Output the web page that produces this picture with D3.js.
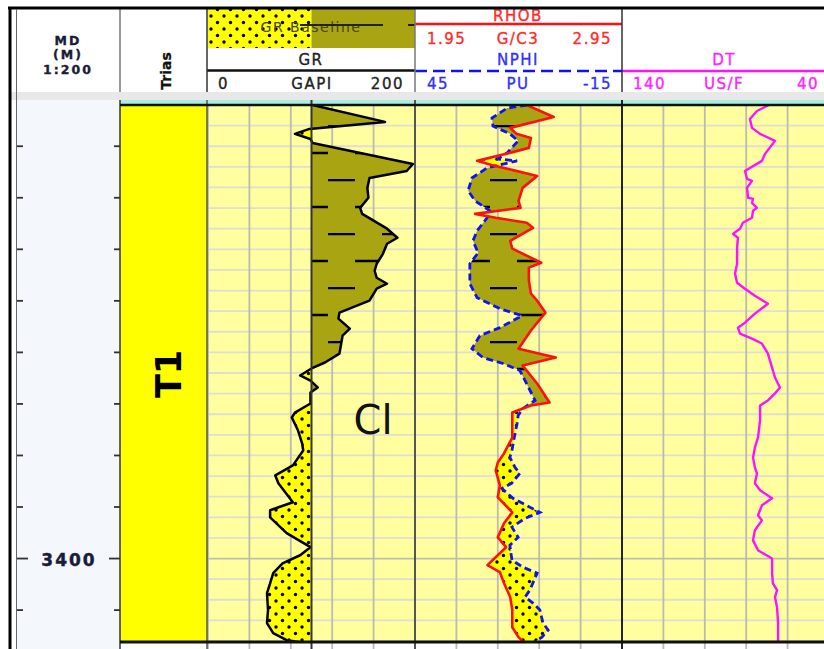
<!DOCTYPE html>
<html>
<head>
<meta charset="UTF-8">
<title>Well log T1</title>
<script src="https://cdn.jsdelivr.net/npm/d3@7"></script>
<style>
body{margin:0;background:#fff;}
text{font-family:"DejaVu Sans",Verdana,sans-serif;}
</style>
</head>
<body>
<script>
// depth window (m) and ticks
var depthDomain = [3378, 3404];
var depthTicks = [3380, 3382.5, 3385, 3387.5, 3390, 3392.5, 3395, 3397.5, 3400, 3402.5];
var depthLabels = [3400];

// curve scales
var grScale = [0, 200], grBaseline = 100;
var rhobScale = [1.95, 2.95];
var nphiScale = [45, -15];
var dtScale = [140, 40];

// GR (GAPI)
var grDepth = [3378.0, 3378.82, 3379.16, 3379.40, 3379.65, 3379.84, 3380.86, 3381.20, 3381.54, 3382.02, 3382.50, 3382.99, 3383.28, 3384.00, 3384.44, 3384.73, 3385.22, 3385.70, 3386.04, 3386.38, 3386.67, 3386.91, 3387.49, 3388.07, 3388.36, 3388.85, 3389.19, 3390.06, 3390.49, 3390.78, 3391.12, 3391.37, 3391.70, 3391.95, 3392.48, 3392.92, 3393.16, 3393.79, 3394.42, 3394.76, 3395.48, 3395.97, 3396.35, 3397.27, 3397.66, 3398.00, 3398.77, 3399.45, 3399.84, 3400.23, 3400.71, 3401.20, 3401.68, 3402.50, 3403.13, 3403.62, 3403.96, 3404.1];
var grValue = [101, 171, 98, 84, 99, 101, 198, 192, 156, 154, 155, 147, 149, 173, 183, 173, 169, 163, 161, 163, 173, 163, 156, 127, 126, 137, 130, 127, 113, 100, 89, 99, 106, 99, 99, 84, 81, 87, 91, 92, 82, 65, 68, 82, 60, 60, 76, 99, 89, 72, 63, 60, 57, 58, 57, 63, 76, 95];

// RHOB (G/C3)
var rhobDepth = [3378.0, 3378.58, 3379.11, 3379.40, 3379.60, 3380.08, 3380.37, 3380.71, 3380.91, 3381.44, 3382.02, 3382.65, 3382.99, 3383.28, 3383.47, 3383.71, 3383.96, 3384.59, 3384.97, 3385.65, 3385.89, 3386.52, 3387.15, 3387.49, 3388.07, 3388.94, 3389.82, 3390.25, 3390.64, 3391.51, 3392.43, 3392.58, 3392.92, 3393.54, 3394.13, 3394.90, 3395.34, 3395.72, 3396.45, 3397.03, 3397.76, 3398.29, 3398.97, 3399.45, 3400.32, 3400.66, 3401.20, 3401.87, 3402.50, 3403.33, 3403.81, 3404.1];
var rhobValue = [2.49, 2.62, 2.41, 2.44, 2.51, 2.50, 2.39, 2.25, 2.32, 2.54, 2.47, 2.45, 2.46, 2.24, 2.34, 2.49, 2.52, 2.41, 2.42, 2.56, 2.50, 2.50, 2.51, 2.54, 2.58, 2.51, 2.45, 2.63, 2.47, 2.54, 2.60, 2.51, 2.42, 2.42, 2.42, 2.38, 2.35, 2.34, 2.36, 2.35, 2.42, 2.38, 2.35, 2.39, 2.30, 2.36, 2.38, 2.41, 2.42, 2.42, 2.45, 2.48];

// NPHI (PU)
var nphiDepth = [3378.0, 3378.15, 3378.63, 3379.02, 3379.40, 3379.74, 3380.32, 3380.62, 3380.71, 3381.05, 3381.54, 3382.16, 3382.65, 3383.13, 3383.47, 3384.10, 3384.59, 3385.17, 3385.70, 3386.67, 3387.35, 3387.88, 3388.22, 3388.80, 3389.19, 3389.82, 3390.25, 3390.54, 3390.88, 3391.37, 3392.33, 3392.72, 3393.06, 3393.45, 3393.93, 3394.76, 3395.09, 3395.58, 3395.87, 3396.35, 3396.60, 3397.08, 3397.76, 3398.05, 3398.48, 3398.97, 3399.36, 3400.08, 3400.42, 3400.71, 3401.53, 3401.87, 3402.16, 3402.50, 3403.13, 3403.47, 3403.81, 3404.1];
var nphiValue = [12.5, 18.3, 22.7, 22.4, 17.5, 15.1, 18.3, 20.9, 15.4, 24.1, 28.5, 29.6, 27.6, 23.3, 24.1, 27.0, 28.2, 26.7, 29.1, 29.1, 27.0, 20.4, 14.0, 20.4, 26.2, 28.5, 25.3, 19.5, 14.6, 13.1, 10.2, 13.7, 15.1, 15.4, 16.0, 16.9, 17.5, 16.0, 14.6, 17.0, 19.8, 16.6, 8.8, 13.1, 16.9, 15.1, 17.5, 16.9, 13.7, 9.6, 11.7, 13.1, 10.8, 8.8, 7.9, 6.4, 8.2, 10.8];

// DT (US/F)
var dtDepth = [3378.0, 3378.29, 3378.68, 3379.11, 3379.40, 3379.74, 3380.37, 3380.71, 3381.20, 3381.58, 3381.68, 3382.02, 3382.50, 3382.55, 3382.75, 3382.99, 3383.13, 3383.47, 3383.71, 3384.00, 3384.25, 3384.44, 3384.92, 3385.70, 3386.18, 3386.62, 3386.91, 3387.25, 3387.64, 3388.12, 3388.56, 3388.80, 3389.09, 3389.33, 3389.57, 3390.06, 3390.74, 3391.22, 3391.70, 3391.99, 3392.33, 3392.58, 3393.30, 3394.13, 3394.61, 3395.10, 3395.58, 3395.87, 3396.35, 3396.69, 3397.08, 3397.42, 3397.90, 3398.15, 3398.63, 3399.12, 3399.60, 3400.00, 3400.71, 3401.20, 3401.53, 3401.87, 3402.36, 3403.13, 3404.0];
var dtValue = [69.0, 74.8, 78.2, 77.2, 73.3, 66.1, 70.9, 72.4, 80.6, 79.6, 77.2, 79.6, 79.1, 76.7, 77.2, 74.8, 76.7, 77.2, 81.6, 83.0, 86.4, 84.0, 84.4, 84.4, 85.4, 84.4, 80.6, 75.8, 69.5, 75.8, 80.6, 84.0, 83.0, 77.2, 72.4, 69.5, 67.5, 66.1, 63.7, 66.1, 69.5, 73.3, 73.3, 74.3, 75.8, 76.7, 75.8, 74.8, 75.8, 73.3, 67.5, 72.4, 74.3, 72.4, 75.8, 76.7, 74.3, 67.5, 67.5, 67.1, 65.1, 66.1, 65.1, 64.6, 64.6];

var W = 824, H = 649;
var OLIVE = "#a9a512", PALE = "#ffffa0";
var yTop = 105, yBot = 641;

var y = d3.scaleLinear().domain(depthDomain).range([yTop, yBot]);
var xGR = d3.scaleLinear().domain(grScale).range([208, 415]);
var xRHOB = d3.scaleLinear().domain(rhobScale).range([415, 622]);
var xNPHI = d3.scaleLinear().domain(nphiScale).range([415, 622]);
var xDT = d3.scaleLinear().domain(dtScale).range([622, 829]);

function pts(ds, vs){ return ds.map(function(d,i){ return {d:d, v:vs[i]}; }); }
var gr = pts(grDepth, grValue), rhob = pts(rhobDepth, rhobValue),
    nphi = pts(nphiDepth, nphiValue), dt = pts(dtDepth, dtValue);

var svg = d3.select("body").append("svg").attr("width", W).attr("height", H);
var defs = svg.append("defs");

// shale: olive with black dashes, sand: yellow with dots
var sh = defs.append("pattern").attr("id","shale").attr("patternUnits","userSpaceOnUse")
  .attr("x",4).attr("y",17).attr("width",54).attr("height",54);
sh.append("rect").attr("width",54).attr("height",54).attr("fill",OLIVE);
sh.append("path").attr("d","M0,1H27M27,28H54").attr("stroke","#000").attr("stroke-width",2.4);
var sd = defs.append("pattern").attr("id","sand").attr("patternUnits","userSpaceOnUse")
  .attr("width",13).attr("height",13);
sd.append("rect").attr("width",13).attr("height",13).attr("fill","#ffff00");
sd.append("circle").attr("cx",3).attr("cy",3).attr("r",1.7).attr("fill","#000");
sd.append("circle").attr("cx",9.5).attr("cy",9.5).attr("r",1.7).attr("fill","#000");

defs.append("clipPath").attr("id","plot").append("rect")
  .attr("x",120).attr("y",yTop).attr("width",W-120).attr("height",yBot-yTop);
defs.append("clipPath").attr("id","grRight").append("rect")
  .attr("x",xGR(grBaseline)).attr("y",0).attr("width",415-xGR(grBaseline)).attr("height",H);
defs.append("clipPath").attr("id","grLeft").append("rect")
  .attr("x",208).attr("y",0).attr("width",xGR(grBaseline)-208).attr("height",H);
defs.append("clipPath").attr("id","nRight").append("path")
  .attr("d", d3.area().y(function(p){return y(p.d);}).x0(function(p){return xNPHI(p.v);}).x1(622)(nphi));
defs.append("clipPath").attr("id","nLeft").append("path")
  .attr("d", d3.area().y(function(p){return y(p.d);}).x0(415).x1(function(p){return xNPHI(p.v);})(nphi));

// backgrounds
svg.append("rect").attr("x",17).attr("y",100).attr("width",103).attr("height",H-100).attr("fill","#f4f7fb");
svg.append("rect").attr("x",10).attr("y",92).attr("width",W-10).attr("height",8).attr("fill","#e8e8e8");
svg.append("rect").attr("x",120).attr("y",100).attr("width",W-120).attr("height",5).attr("fill","#aaf0e2");
svg.append("rect").attr("x",207).attr("y",yTop).attr("width",W-207).attr("height",yBot-yTop).attr("fill",PALE);
svg.append("rect").attr("x",120).attr("y",yTop).attr("width",87).attr("height",yBot-yTop).attr("fill","#ffff00");

// grid
var grid = svg.append("g");
grid.selectAll("line.h").data(y.ticks(26)).enter().append("line")
  .attr("x1",207).attr("x2",W).attr("y1",function(d){return y(d);}).attr("y2",function(d){return y(d);})
  .attr("stroke",function(d){return d % 50 === 0 ? "#bdbdb0" : "#e0ddd2";}).attr("stroke-width",1.8);
var vx = [];
[xGR, xRHOB, xDT].forEach(function(s){
  var dom = s.domain();
  d3.range(6).forEach(function(i){ vx.push(s(dom[0] + (dom[1]-dom[0])*i/5)); });
});
grid.selectAll("line.v").data(vx).enter().append("line")
  .attr("x1",function(d){return d;}).attr("x2",function(d){return d;})
  .attr("y1",yTop).attr("y2",H).attr("stroke","#bbbbae").attr("stroke-width",1.8);

// curves
var plot = svg.append("g").attr("clip-path","url(#plot)");
var grArea = d3.area().y(function(p){return y(p.d);}).x0(xGR(grBaseline)).x1(function(p){return xGR(p.v);});
plot.append("g").attr("clip-path","url(#grRight)").append("path").attr("d",grArea(gr)).attr("fill","url(#shale)");
plot.append("g").attr("clip-path","url(#grLeft)").append("path").attr("d",grArea(gr)).attr("fill","url(#sand)");

var shaleArea = d3.area().y(function(p){return y(p.d);}).x0(415).x1(function(p){return xRHOB(p.v);});
var sandArea = d3.area().y(function(p){return y(p.d);}).x0(function(p){return xRHOB(p.v);}).x1(622);
plot.append("g").attr("clip-path","url(#nRight)").append("path").attr("d",shaleArea(rhob)).attr("fill","url(#shale)");
plot.append("g").attr("clip-path","url(#nLeft)").append("path").attr("d",sandArea(rhob)).attr("fill","url(#sand)");

// borders inside the plot
var bx = [[120,"#333",1.5],[207,"#555",1.5],[xGR(grBaseline),"#333",2],[415,"#555",2],[622,"#222",2]];
svg.selectAll("line.b").data(bx).enter().append("line")
  .attr("x1",function(d){return d[0];}).attr("x2",function(d){return d[0];})
  .attr("y1",100).attr("y2",H).attr("stroke",function(d){return d[1];}).attr("stroke-width",function(d){return d[2];});

plot.append("path").attr("d",d3.line().x(function(p){return xGR(p.v);}).y(function(p){return y(p.d);})(gr))
  .attr("fill","none").attr("stroke","#000").attr("stroke-width",2.5).attr("stroke-linejoin","round");
plot.append("path").attr("d",d3.line().x(function(p){return xNPHI(p.v);}).y(function(p){return y(p.d);})(nphi))
  .attr("fill","none").attr("stroke","#1010ff").attr("stroke-width",2.8).attr("stroke-dasharray","7,4");
plot.append("path").attr("d",d3.line().x(function(p){return xRHOB(p.v);}).y(function(p){return y(p.d);})(rhob))
  .attr("fill","none").attr("stroke","#ff1010").attr("stroke-width",2.6).attr("stroke-linejoin","round");
plot.append("path").attr("d",d3.line().x(function(p){return xDT(p.v);}).y(function(p){return y(p.d);})(dt))
  .attr("fill","none").attr("stroke","#ff10ff").attr("stroke-width",2.4).attr("stroke-linejoin","round");

// top / bottom rules of plot
svg.append("line").attr("x1",120).attr("x2",W).attr("y1",yTop).attr("y2",yTop).attr("stroke","#111").attr("stroke-width",2.5);
svg.append("line").attr("x1",120).attr("x2",W).attr("y1",yBot+1).attr("y2",yBot+1).attr("stroke","#111").attr("stroke-width",3);

// depth ticks
var md = svg.append("g");
md.selectAll("line.tl").data(depthTicks).enter().append("line")
  .attr("x1",17).attr("x2",function(d){return depthLabels.indexOf(d) >= 0 ? 28 : 23;})
  .attr("y1",function(d){return y(d);}).attr("y2",function(d){return y(d);})
  .attr("stroke","#333").attr("stroke-width",1.8);
md.selectAll("line.tr").data(depthTicks).enter().append("line")
  .attr("x1",function(d){return depthLabels.indexOf(d) >= 0 ? 109 : 114;}).attr("x2",120)
  .attr("y1",function(d){return y(d);}).attr("y2",function(d){return y(d);})
  .attr("stroke","#333").attr("stroke-width",1.8);
md.selectAll("text").data(depthLabels).enter().append("text")
  .attr("x",69).attr("y",function(d){return y(d)+7;}).attr("text-anchor","middle")
  .attr("font-size",17).attr("font-weight","bold").attr("letter-spacing",2)
  .attr("fill","#1a1c38").attr("stroke","#1a1c38").attr("stroke-width",0.4)
  .text(function(d){return d;});

// zone labels
svg.append("text").attr("transform","translate(181,374) rotate(-90)").attr("text-anchor","middle")
  .attr("font-size",35).attr("font-weight","bold").attr("fill","#000").text("T1");
svg.append("text").attr("x",373).attr("y",434).attr("text-anchor","middle")
  .attr("font-family","Lato, 'Open Sans', sans-serif").attr("font-size",40).attr("fill","#111").text("Cl");

// header
var hd = svg.append("g");
[["MD",45],["(M)",59],["1:200",74]].forEach(function(t){
  hd.append("text").attr("x",68).attr("y",t[1]).attr("text-anchor","middle").attr("font-size",12.5)
    .attr("font-weight","bold").attr("letter-spacing",2).attr("fill","#1a1c38")
    .attr("stroke","#1a1c38").attr("stroke-width",0.35).text(t[0]);
});
hd.append("text").attr("transform","translate(171,71) rotate(-90)").attr("text-anchor","middle")
  .attr("font-size",14).attr("font-weight","bold").attr("fill","#111")
  .attr("stroke","#111").attr("stroke-width",0.3).text("Trias");

hd.append("rect").attr("x",208).attr("y",9).attr("width",xGR(grBaseline)-208).attr("height",39).attr("fill","url(#sand)");
hd.append("rect").attr("x",xGR(grBaseline)).attr("y",9).attr("width",415-xGR(grBaseline)).attr("height",39).attr("fill",OLIVE);
hd.append("text").attr("x",311).attr("y",32).attr("text-anchor","middle").attr("font-size",14)
  .attr("letter-spacing",1.5).attr("fill","#4a4410").text("GR Baseline");
hd.append("path").attr("d","M300,25H383M408,25H415").attr("stroke","#222").attr("stroke-width",2);

function label(x, yy, s, anchor, col){
  hd.append("text").attr("x",x).attr("y",yy).attr("text-anchor",anchor).attr("font-size",15)
    .attr("letter-spacing",1.5).attr("fill",col).attr("stroke",col).attr("stroke-width",0.35).text(s);
}
label(311,65,"GR","middle","#222");
hd.append("line").attr("x1",207).attr("x2",415).attr("y1",70.5).attr("y2",70.5).attr("stroke","#111").attr("stroke-width",2.5);
label(218,89,"0","start","#222"); label(312,89,"GAPI","middle","#222"); label(404,89,"200","end","#222");

label(518,21,"RHOB","middle","#ff2a2a");
hd.append("line").attr("x1",415).attr("x2",622).attr("y1",24).attr("y2",24).attr("stroke","#ff1010").attr("stroke-width",2.5);
label(427,44,"1.95","start","#ff2a2a"); label(518,44,"G/C3","middle","#ff2a2a"); label(612,44,"2.95","end","#ff2a2a");
label(518,65,"NPHI","middle","#3030ff");
hd.append("line").attr("x1",415).attr("x2",622).attr("y1",71).attr("y2",71).attr("stroke","#1010ff")
  .attr("stroke-width",2.5).attr("stroke-dasharray","12,6");
label(427,89,"45","start","#3030ff"); label(518,89,"PU","middle","#3030ff"); label(612,89,"-15","end","#3030ff");

label(724,65,"DT","middle","#ff22ff");
hd.append("line").attr("x1",622).attr("x2",W).attr("y1",71).attr("y2",71).attr("stroke","#ff10ff").attr("stroke-width",2.5);
label(633,89,"140","start","#ff22ff"); label(724,89,"US/F","middle","#ff22ff"); label(819,89,"40","end","#ff22ff");

[[120,"#777"],[207,"#333"],[415,"#777"],[622,"#333"]].forEach(function(s){
  hd.append("line").attr("x1",s[0]).attr("x2",s[0]).attr("y1",9).attr("y2",92).attr("stroke",s[1]).attr("stroke-width",1.5);
});

// outer frame
svg.append("rect").attr("x",0).attr("y",0).attr("width",W).attr("height",8).attr("fill","#fff");
svg.append("line").attr("x1",8).attr("x2",W).attr("y1",8).attr("y2",8).attr("stroke","#000").attr("stroke-width",3);
svg.append("line").attr("x1",10).attr("x2",10).attr("y1",7).attr("y2",H).attr("stroke","#000").attr("stroke-width",3);
svg.append("line").attr("x1",16.5).attr("x2",16.5).attr("y1",9).attr("y2",H).attr("stroke","#666").attr("stroke-width",1);
</script>
</body>
</html>
